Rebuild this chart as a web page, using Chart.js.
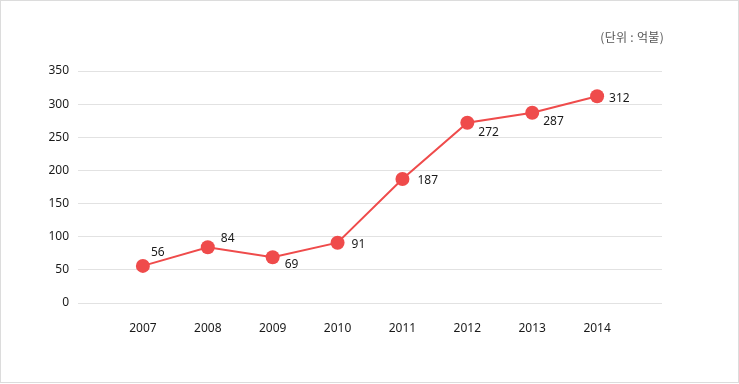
<!DOCTYPE html>
<html>
<head>
<meta charset="utf-8">
<script src="https://cdn.jsdelivr.net/npm/chart.js@4"></script>
<style>
  html, body { margin: 0; padding: 0; background: #fff; }
  #wrap { position: relative; width: 739px; height: 384px; }
  #frame { position: absolute; left: 0; top: 0; width: 737px; height: 381px; border: 1px solid #dcdcdc; pointer-events: none; }
  #unit { position: absolute; right: 75px; top: 29px; font-family: "Noto Sans CJK KR", "Noto Sans", sans-serif; font-size: 12px; letter-spacing: 0.3px; color: #555; line-height: 16px; }
  canvas { position: absolute; left: 0; top: 0; }
</style>
</head>
<body>
<div id="wrap">
  <canvas id="c" width="739" height="384"></canvas>
  <div id="frame"></div>
  <div id="unit">(단위 : 억불)</div>
</div>
<script>
const years = [2007, 2008, 2009, 2010, 2011, 2012, 2013, 2014];
const values = [56, 84, 69, 91, 187, 272, 287, 312];
const yTicks = [0, 50, 100, 150, 200, 250, 300, 350];
// label offsets (dx from point to label left edge, dy to label middle)
const labelDx = [8, 13, 12, 14, 15, 11, 11, 12];
const labelDy = [-13, -9, 7, 2, 2, 10, 9, 2];

const RED = '#ef4b4b';
const FONT = '"Noto Sans", "Noto Sans CJK KR", sans-serif';

const labelPlugin = {
  id: 'valueLabels',
  afterDatasetsDraw(chart) {
    const ctx = chart.ctx;
    const meta = chart.getDatasetMeta(0);
    ctx.save();
    ctx.font = '12px ' + FONT;
    ctx.fillStyle = '#1a1a1a';
    ctx.textAlign = 'left';
    ctx.textBaseline = 'middle';
    meta.data.forEach((pt, i) => {
      ctx.fillText(String(values[i]), pt.x + labelDx[i], pt.y + labelDy[i]);
    });
    ctx.restore();
  }
};

new Chart(document.getElementById('c'), {
  type: 'line',
  data: {
    datasets: [{
      data: years.map((y, i) => ({ x: y, y: values[i] })),
      borderColor: RED,
      backgroundColor: RED,
      borderWidth: 2,
      pointRadius: 7,
      pointHoverRadius: 7,
      pointBackgroundColor: RED,
      pointBorderColor: RED,
      pointBorderWidth: 0,
      tension: 0,
      fill: false
    }]
  },
  options: {
    responsive: false,
    animation: false,
    events: [],
    layout: { padding: { top: 71, right: 77, bottom: 0, left: 0 } },
    plugins: { legend: { display: false }, tooltip: { enabled: false } },
    scales: {
      x: {
        type: 'linear',
        min: 2006,
        max: 2015,
        afterBuildTicks(scale) { scale.ticks = years.map(v => ({ value: v })); },
        ticks: {
          callback: (v) => String(v),
          color: '#1a1a1a',
          font: { family: FONT, size: 12 },
          padding: 18,
          maxRotation: 0,
          autoSkip: false
        },
        grid: { display: false, drawTicks: false },
        border: { display: false },
        afterFit(scale) { scale.height = 81; }
      },
      y: {
        min: 0,
        max: 350,
        afterBuildTicks(scale) { scale.ticks = yTicks.map(v => ({ value: v })); },
        ticks: {
          color: '#1a1a1a',
          font: { family: FONT, size: 12 },
          padding: 9
        },
        grid: { color: '#e2e2e2', drawTicks: false, lineWidth: 1 },
        border: { display: false },
        afterFit(scale) { scale.width = 78; }
      }
    }
  },
  plugins: [labelPlugin]
});
</script>
</body>
</html>
